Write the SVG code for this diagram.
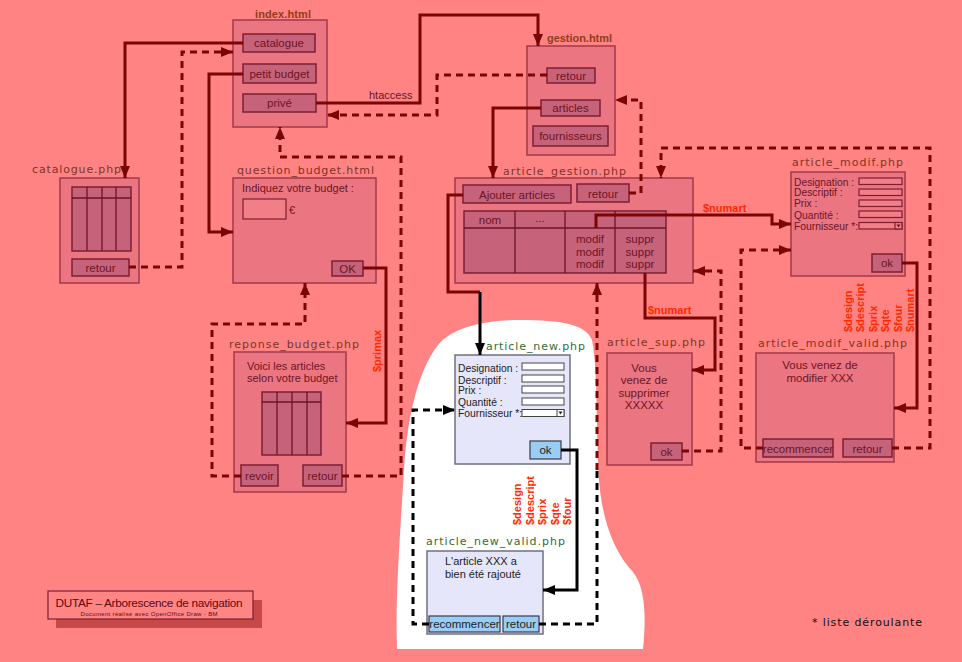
<svg xmlns="http://www.w3.org/2000/svg" width="962" height="662" viewBox="0 0 962 662">
<style>
.node{fill:#ec7582;stroke:#a33a48;stroke-width:1.5}
.btn{fill:#c7627b;stroke:#7d1f33;stroke-width:1.5}
.inp{fill:#f27e88;stroke:#7d1f33;stroke-width:1.2}
.nw{fill:#e6e6fa;stroke:#70707e;stroke-width:1.5}
.bb{fill:#9acdf5;stroke:#3a3a4a;stroke-width:1.2}
.wi{fill:#ffffff;stroke:#444;stroke-width:1}
.grid{fill:none;stroke:#6b1525;stroke-width:1.3}
.t{font-family:"Liberation Sans",Arial,sans-serif;font-size:11px;fill:#6b1525}
.tb{font-family:"Liberation Sans",Arial,sans-serif;font-size:11.5px;fill:#6b1525;text-anchor:middle}
.tk{font-family:"Liberation Sans",Arial,sans-serif;font-size:11px;fill:#222}
.tkb{font-family:"Liberation Sans",Arial,sans-serif;font-size:11.5px;fill:#222;text-anchor:middle}
.f{font-family:"Liberation Sans",Arial,sans-serif;font-size:10.3px;fill:#6b1525}
.fk{font-family:"Liberation Sans",Arial,sans-serif;font-size:10.3px;fill:#222}
.lbl{font-family:"DejaVu Sans",sans-serif;font-size:11px;fill:#7d3526}
.lblg{font-family:"DejaVu Sans",sans-serif;font-size:11px;fill:#356b35}
.hd{font-family:"Liberation Sans",Arial,sans-serif;font-size:11px;font-weight:bold;fill:#8f3d1c}
.var{font-family:"Liberation Sans",Arial,sans-serif;font-size:11px;font-weight:bold;fill:#ff2a00}
.c{fill:none;stroke:#7a0505;stroke-width:3}
.d{fill:none;stroke:#7a0505;stroke-width:3;stroke-dasharray:7 5}
.ck{fill:none;stroke:#000;stroke-width:3}
.dk{fill:none;stroke:#000;stroke-width:3;stroke-dasharray:7 5}
</style>
<defs>
<marker id="ar" viewBox="0 0 12 10" refX="12" refY="5" markerWidth="12" markerHeight="10" orient="auto" markerUnits="userSpaceOnUse"><path d="M0,0 L12,5 L0,10 z" fill="#7a0505"/></marker>
<marker id="ak" viewBox="0 0 12 10" refX="12" refY="5" markerWidth="12" markerHeight="10" orient="auto" markerUnits="userSpaceOnUse"><path d="M0,0 L12,5 L0,10 z" fill="#000"/></marker>
</defs>
<rect width="962" height="662" fill="#ff8383"/>
<path d="M397,645 C395,600 401,520 404,470 C407,420 417,372 438,345 C452,328 482,320 520,320 C560,320 586,324 592,340 C598,370 596,430 599,480 C602,520 614,552 633,572 C646,588 646,620 643,649 L397,649 Z" fill="#ffffff"/>

<g id="index">
<text class="hd" x="255" y="18" textLength="56">index.html</text>
<rect class="node" x="233" y="20" width="94" height="107"/>
<rect class="btn" x="243" y="34" width="72" height="18"/><text class="tb" x="279" y="47">catalogue</text>
<rect class="btn" x="243" y="64" width="73" height="19"/><text class="tb" x="279.5" y="77.5">petit budget</text>
<rect class="btn" x="243" y="94" width="73" height="18"/><text class="tb" x="279.5" y="107">privé</text>
</g>

<g id="gestion">
<text class="hd" x="547" y="42" textLength="65">gestion.html</text>
<rect class="node" x="527" y="46" width="88" height="109"/>
<rect class="btn" x="547" y="68" width="48" height="15"/><text class="tb" x="571" y="79.5">retour</text>
<rect class="btn" x="541" y="100" width="59" height="16"/><text class="tb" x="570.5" y="112">articles</text>
<rect class="btn" x="533" y="126" width="75" height="20"/><text class="tb" x="570.5" y="140">fournisseurs</text>
</g>

<g id="catalogue">
<text class="lbl" x="32" y="173" textLength="89">catalogue.php</text>
<rect class="node" x="60" y="178" width="79" height="105"/>
<rect class="btn" x="72" y="187" width="59" height="64"/>
<path class="grid" d="M72,198 H131 M87,187 V251 M102,187 V251 M116,187 V251"/>
<rect class="btn" x="72" y="259" width="57" height="17"/><text class="tb" x="100.5" y="271.5">retour</text>
</g>

<g id="question_budget">
<text class="lbl" x="237" y="174" textLength="137">question_budget.html</text>
<rect class="node" x="233" y="178" width="143" height="105"/>
<text class="t" x="242" y="192">Indiquez votre budget :</text>
<rect class="inp" x="243" y="199" width="43" height="20"/>
<text class="t" x="289" y="214">€</text>
<rect class="btn" x="332" y="261" width="31" height="15"/><text class="tb" x="347.5" y="272.5">OK</text>
</g>

<g id="reponse_budget">
<text class="lbl" x="229" y="348" textLength="130">reponse_budget.php</text>
<rect class="node" x="234" y="352" width="112" height="140"/>
<text class="t" x="247" y="370">Voici les articles</text>
<text class="t" x="247" y="382">selon votre budget</text>
<rect class="btn" x="262" y="392" width="59" height="63"/>
<path class="grid" d="M262,402 H321 M277,392 V455 M292,392 V455 M307,392 V455"/>
<rect class="btn" x="241" y="465" width="37" height="21"/><text class="tb" x="259.5" y="479.5">revoir</text>
<rect class="btn" x="303" y="465" width="39" height="21"/><text class="tb" x="322.5" y="479.5">retour</text>
</g>

<g id="article_gestion">
<text class="lbl" x="503" y="175" textLength="123">article_gestion.php</text>
<rect class="node" x="455" y="178" width="238" height="105"/>
<rect class="btn" x="463" y="185" width="108" height="18"/><text class="tb" x="517" y="198.5">Ajouter articles</text>
<rect class="btn" x="577" y="184" width="52" height="18"/><text class="tb" x="603" y="197.5">retour</text>
<rect class="btn" x="464" y="211" width="202" height="62"/>
<path class="grid" d="M464,228 H666 M515,211 V273 M565,211 V273 M615,211 V273"/>
<text class="tb" x="490" y="224">nom</text>
<text class="tb" x="540" y="222">...</text>
<text class="tb" x="590" y="243">modif</text><text class="tb" x="590" y="255.5">modif</text><text class="tb" x="590" y="268">modif</text>
<text class="tb" x="640" y="243">suppr</text><text class="tb" x="640" y="255.5">suppr</text><text class="tb" x="640" y="268">suppr</text>
</g>

<g id="article_modif">
<text class="lbl" x="792" y="166" textLength="111">article_modif.php</text>
<rect class="node" x="791" y="172" width="114" height="104"/>
<text class="f" x="794" y="185.5">Designation :</text>
<text class="f" x="794" y="196">Descriptif :</text>
<text class="f" x="794" y="207">Prix :</text>
<text class="f" x="794" y="218.5">Quantité :</text>
<text class="f" x="794" y="230">Fournisseur *:</text>
<rect class="inp" x="859" y="178" width="43" height="6.5"/>
<rect class="inp" x="859" y="189" width="43" height="6.5"/>
<rect class="inp" x="859" y="200" width="43" height="6.5"/>
<rect class="inp" x="859" y="211" width="43" height="6.5"/>
<rect class="inp" x="859" y="222.5" width="43" height="6.5"/>
<rect class="inp" x="895" y="222.5" width="7" height="6.5"/><path d="M896.5,224.5 H900.5 L898.5,227.5 z" fill="#6b1525"/>
<rect class="btn" x="872" y="254" width="30" height="18"/><text class="tb" x="887" y="267">ok</text>
</g>

<g id="article_new">
<text class="lblg" x="486" y="350" textLength="99">article_new.php</text>
<rect class="nw" x="455" y="355" width="115" height="109"/>
<text class="fk" x="458" y="372">Designation :</text>
<text class="fk" x="458" y="383.5">Descriptif :</text>
<text class="fk" x="458" y="394">Prix :</text>
<text class="fk" x="458" y="405.5">Quantité :</text>
<text class="fk" x="458" y="417">Fournisseur *:</text>
<rect class="wi" x="522" y="363" width="42" height="7"/>
<rect class="wi" x="522" y="375" width="42" height="7"/>
<rect class="wi" x="522" y="386" width="42" height="7"/>
<rect class="wi" x="522" y="398" width="42" height="7"/>
<rect class="wi" x="522" y="409.5" width="42" height="7"/>
<rect class="wi" x="557" y="409.5" width="7" height="7"/><path d="M558.5,411.5 H562.5 L560.5,414.5 z" fill="#222"/>
<rect class="bb" x="530" y="441" width="31" height="18"/><text class="tkb" x="545.5" y="454">ok</text>
</g>

<g id="article_sup">
<text class="lbl" x="607" y="346" textLength="98">article_sup.php</text>
<rect class="node" x="607" y="353" width="85" height="112"/>
<text class="tb" x="644" y="372">Vous</text>
<text class="tb" x="644" y="384">venez de</text>
<text class="tb" x="644" y="397">supprimer</text>
<text class="tb" x="644" y="409">XXXXX</text>
<rect class="btn" x="651" y="443" width="31" height="17"/><text class="tb" x="666.5" y="455.5">ok</text>
</g>

<g id="article_modif_valid">
<text class="lbl" x="758" y="347" textLength="149">article_modif_valid.php</text>
<rect class="node" x="756" y="353" width="138" height="109"/>
<text class="tb" x="820" y="369">Vous venez de</text>
<text class="tb" x="820" y="382">modifier XXX</text>
<rect class="btn" x="763" y="439" width="70" height="18"/><text class="tb" x="798" y="452.5">recommencer</text>
<rect class="btn" x="843" y="439" width="49" height="18"/><text class="tb" x="867.5" y="452.5">retour</text>
</g>

<g id="article_new_valid">
<text class="lblg" x="426" y="545" textLength="139">article_new_valid.php</text>
<rect class="nw" x="427" y="551" width="116" height="83"/>
<text class="tk" x="445" y="565">L'article XXX a</text>
<text class="tk" x="445" y="578">bien été rajouté</text>
<rect class="bb" x="429" y="616" width="71" height="16"/><text class="tkb" x="464.5" y="628">recommencer</text>
<rect class="bb" x="503" y="616" width="36" height="16"/><text class="tkb" x="521" y="628">retour</text>
</g>

<g id="title">
<rect x="56" y="600" width="206" height="28" fill="#c84848"/>
<rect x="48" y="591" width="205" height="28" fill="#ff8585" stroke="#7d1f33" stroke-width="1.2"/>
<text x="149" y="607" text-anchor="middle" textLength="187" font-family="Liberation Sans, Arial, sans-serif" font-size="11.8" fill="#5a0a14">DUTAF – Arborescence de navigation</text>
<text x="149" y="615.5" text-anchor="middle" textLength="137" font-family="Liberation Sans, Arial, sans-serif" font-size="6" fill="#5a0a14">Document réalisé avec OpenOffice Draw - BM</text>
</g>
<text x="812" y="626" textLength="110" font-family="DejaVu Sans, sans-serif" font-size="11" fill="#111">* liste déroulante</text>

<g id="connectors">
<path class="c" d="M243,43 H125 V178" marker-end="url(#ar)"/>
<path class="c" d="M243,74 H209 V232 H233" marker-end="url(#ar)"/>
<path class="c" d="M363,268 H386 V423 H346" marker-end="url(#ar)"/>
<path class="c" d="M316,103 H420 V15 H538 V46" marker-end="url(#ar)"/>
<path class="c" d="M541,108 H493 V178" marker-end="url(#ar)"/>
<path class="c" d="M463,195 H448 V292 H480"/>
<path class="ck" d="M480,292 V355" marker-end="url(#ak)"/>
<path class="ck" d="M561,450 H577 V590 H543" marker-end="url(#ak)"/>
<path class="c" d="M596,228 V215 H772 V224 H791" marker-end="url(#ar)"/>
<path class="c" d="M645,273 V318 H715 V370 H692" marker-end="url(#ar)"/>
<path class="c" d="M902,263 H917 V408 H894" marker-end="url(#ar)"/>

<path class="d" d="M129,267 H182 V52 H233" marker-end="url(#ar)"/>
<path class="d" d="M547,75 H437 V115 H327" marker-end="url(#ar)"/>
<path class="d" d="M342,476 H401 V157 H280 V127" marker-end="url(#ar)"/>
<path class="d" d="M241,476 H212 V324 H305 V283" marker-end="url(#ar)"/>
<path class="d" d="M629,193 H641 V100 H615" marker-end="url(#ar)"/>
<path class="dk" d="M429,624 H413 V410 H455" marker-end="url(#ak)"/>
<path class="dk" d="M539,624 H597 V470"/>
<path class="d" d="M597,470 V283" marker-end="url(#ar)"/>
<path class="d" d="M682,451 H721 V271 H693" marker-end="url(#ar)"/>
<path class="d" d="M763,448 H741 V250 H791" marker-end="url(#ar)"/>
<path class="d" d="M892,448 H930 V148 H661 V178" marker-end="url(#ar)"/>

<text class="t" x="369" y="99">htaccess</text>
<text class="var" transform="translate(381,372) rotate(-90)">$primax</text>
<text class="var" x="703" y="212">$numart</text>
<text class="var" x="648" y="314">$numart</text>
<text class="var" transform="translate(521,525) rotate(-90)">$design</text>
<text class="var" transform="translate(533.5,525) rotate(-90)">$descript</text>
<text class="var" transform="translate(546,525) rotate(-90)">$prix</text>
<text class="var" transform="translate(558.5,525) rotate(-90)">$qte</text>
<text class="var" transform="translate(571,525) rotate(-90)">$four</text>
<text class="var" transform="translate(852,332) rotate(-90)">$design</text>
<text class="var" transform="translate(864.4,332) rotate(-90)">$descript</text>
<text class="var" transform="translate(876.8,332) rotate(-90)">$prix</text>
<text class="var" transform="translate(889.2,332) rotate(-90)">$qte</text>
<text class="var" transform="translate(901.6,332) rotate(-90)">$four</text>
<text class="var" transform="translate(914,332) rotate(-90)">$numart</text>
</g>
</svg>
